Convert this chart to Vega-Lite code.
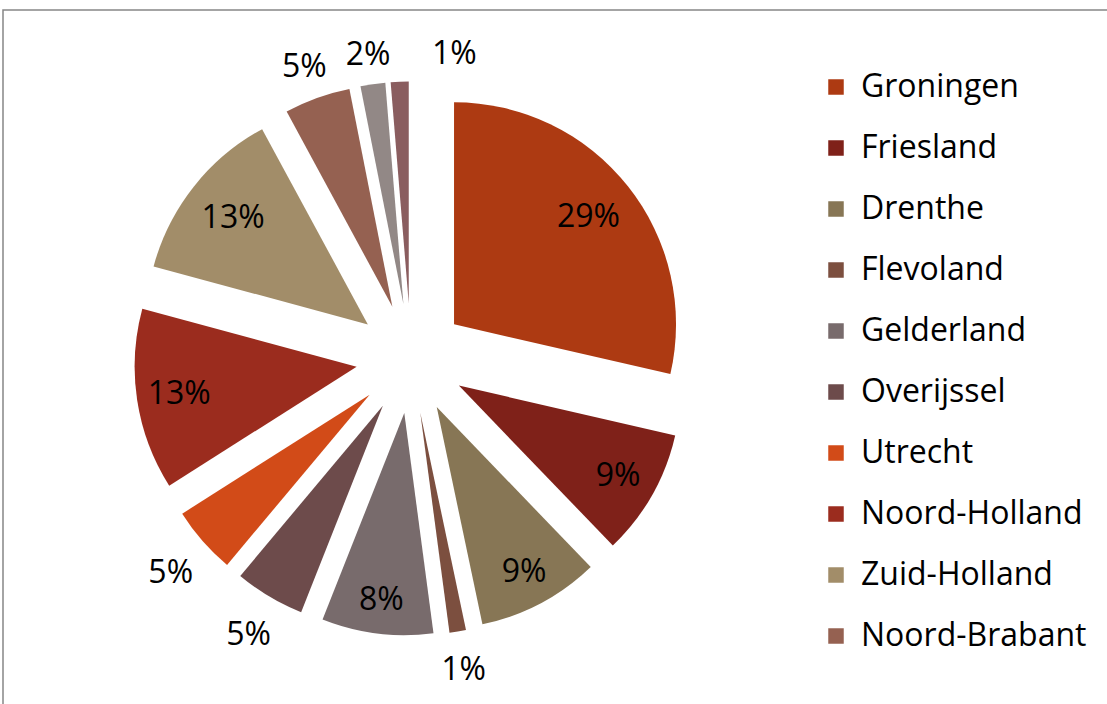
{
  "$schema": "https://vega.github.io/schema/vega-lite/v6.json",
  "width": 1110,
  "height": 700,
  "autosize": {"type": "none"},
  "padding": {"left": 3, "top": 10, "right": -6, "bottom": -6},
  "background": "white",
  "view": {"stroke": "#868686", "strokeWidth": 1.5, "fill": "white"},
  "data": {"values": [
    {"i": 1, "p": "Groningen", "v": 28.6, "label": "29%"},
    {"i": 2, "p": "Friesland", "v": 9.2, "label": "9%"},
    {"i": 3, "p": "Drenthe", "v": 8.9, "label": "9%"},
    {"i": 4, "p": "Flevoland", "v": 1.2, "label": "1%"},
    {"i": 5, "p": "Gelderland", "v": 8.1, "label": "8%"},
    {"i": 6, "p": "Overijssel", "v": 5.1, "label": "5%"},
    {"i": 7, "p": "Utrecht", "v": 4.9, "label": "5%"},
    {"i": 8, "p": "Noord-Holland", "v": 13.2, "label": "13%"},
    {"i": 9, "p": "Zuid-Holland", "v": 12.9, "label": "13%"},
    {"i": 10, "p": "Noord-Brabant", "v": 4.8, "label": "5%"},
    {"i": 11, "p": "Zeeland", "v": 1.8, "label": "2%"},
    {"i": 12, "p": "Limburg", "v": 1.3, "label": "1%"}
  ]},
  "encoding": {
    "theta": {"field": "v", "type": "quantitative", "stack": true},
    "order": {"field": "i", "type": "quantitative"}
  },
  "layer": [
    {
      "mark": {
        "type": "arc",
        "outerRadius": 222,
        "x": {"expr": "408 + 55*sin((scale('theta', datum.v_start) + scale('theta', datum.v_end))/2)"},
        "y": {"expr": "348.5 - 55*cos((scale('theta', datum.v_start) + scale('theta', datum.v_end))/2)"}
      },
      "encoding": {
        "color": {
          "field": "p",
          "type": "nominal",
          "sort": null,
          "scale": {
            "domain": ["Groningen", "Friesland", "Drenthe", "Flevoland", "Gelderland", "Overijssel", "Utrecht", "Noord-Holland", "Zuid-Holland", "Noord-Brabant", "Zeeland", "Limburg"],
            "range": ["#AD3A12", "#7F2119", "#877655", "#7C4F3F", "#786B6C", "#6D4B4B", "#D24B18", "#9B2C1E", "#A28D69", "#956151", "#928886", "#8A5D5F"]
          },
          "legend": {
            "values": ["Groningen", "Friesland", "Drenthe", "Flevoland", "Gelderland", "Overijssel", "Utrecht", "Noord-Holland", "Zuid-Holland", "Noord-Brabant"],
            "orient": "none",
            "legendX": 817,
            "legendY": 61,
            "title": null,
            "padding": 0,
            "symbolType": "square",
            "symbolSize": 240,
            "symbolStrokeWidth": 0,
            "labelFont": "Open Sans",
            "labelFontSize": 32,
            "labelColor": "black",
            "labelOffset": 9,
            "rowPadding": 29,
            "labelLimit": 400
          }
        }
      }
    },
    {
      "mark": {
        "type": "text",
        "x": 408,
        "y": 348.5,
        "radius": {"expr": "datum.v >= 7 ? 233 - 10*cos((scale('theta', datum.v_start) + scale('theta', datum.v_end))/2) : 293 + 22*abs(sin((scale('theta', datum.v_start) + scale('theta', datum.v_end))/2)) + 15*abs(cos((scale('theta', datum.v_start) + scale('theta', datum.v_end))/2))"},
        "dx": {"expr": "datum.p == 'Limburg' ? 56 : 0"},
        "dy": {"expr": "datum.v >= 7 ? 0 : 4"},
        "font": "Open Sans",
        "fontSize": 32,
        "align": "center",
        "baseline": "middle"
      },
      "encoding": {
        "detail": {"field": "p", "type": "nominal"},
        "text": {"field": "label", "type": "nominal"},
        "color": {"value": "black"}
      }
    }
  ]
}
